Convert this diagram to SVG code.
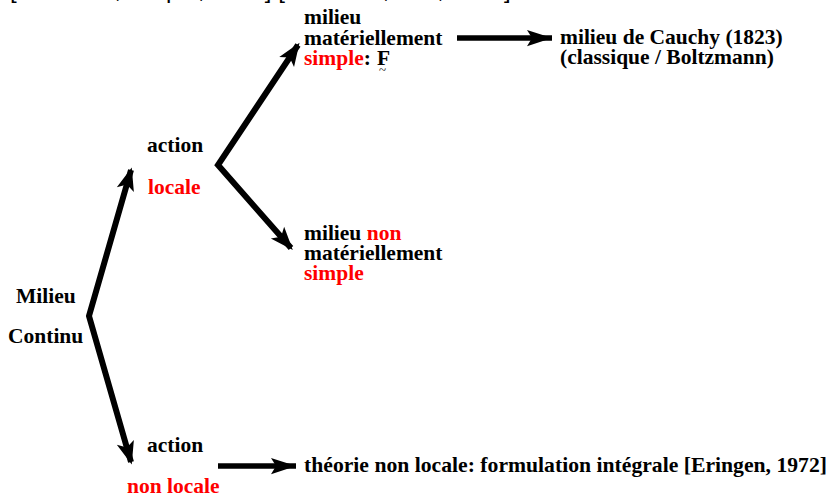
<svg xmlns="http://www.w3.org/2000/svg" width="828" height="495" viewBox="0 0 828 495">
<style>
.t{font-family:"Liberation Serif","Times New Roman",serif;font-weight:bold;font-size:21.5px;fill:#000}
.r{fill:#ff0000}
.ref{font-family:"Liberation Sans",Arial,sans-serif;font-size:24px;fill:#000}
.c{fill:none;stroke:#000;stroke-width:6;stroke-linejoin:miter;stroke-miterlimit:10;stroke-linecap:butt}
.h{fill:none;stroke:#000;stroke-width:5.5}
</style>
<defs>
<marker id="ad" markerUnits="userSpaceOnUse" markerWidth="30" markerHeight="30" refX="0" refY="0" viewBox="-20 -10 22 20" orient="auto-start-reverse" overflow="visible">
<path d="M2,0 L-15,-6.5 L-11,0 L-15,6.5 Z" fill="#000"/>
</marker>
<marker id="ah" markerUnits="userSpaceOnUse" markerWidth="30" markerHeight="30" refX="0" refY="0" viewBox="-22 -10 24 20" orient="auto" overflow="visible">
<path d="M0,0 L-20,-6.5 L-16,0 L-20,6.5 Z" fill="#000"/>
</marker>
</defs>
<text class="ref" x="10" y="-2">[Truesdell, Toupin, 1960] [Truesdell, Noll, 1965]</text>
<g id="connectors">
<polyline class="c" points="131,170 89,316 131,462" marker-start="url(#ad)" marker-end="url(#ad)"/>
<polyline class="c" points="298,45 218,165 291,248" marker-start="url(#ad)" marker-end="url(#ad)"/>
<line class="h" x1="457" y1="38" x2="552" y2="38" marker-end="url(#ah)"/>
<line class="h" x1="218" y1="466" x2="296" y2="466" marker-end="url(#ah)"/>
</g>
<g id="milieu-continu">
<text class="t" x="16" y="303">Milieu</text>
<text class="t" x="8" y="343">Continu</text>
</g>
<g id="action-locale">
<text class="t" x="147" y="152">action</text>
<text class="t r" x="148" y="194">locale</text>
</g>
<g id="action-non-locale">
<text class="t" x="147" y="452">action</text>
<text class="t r" x="127" y="493">non locale</text>
</g>
<g id="milieu-simple">
<text class="t" x="304" y="24">milieu</text>
<text class="t" x="304" y="45">matériellement</text>
<text class="t" x="304" y="65"><tspan class="r">simple</tspan>:</text>
<text class="t" x="377" y="65">F</text>
<text x="379" y="74" style="font-family:'Liberation Serif',serif;font-size:13px">~</text>
</g>
<g id="milieu-non-simple">
<text class="t" x="304" y="240">milieu <tspan class="r">non</tspan></text>
<text class="t" x="304" y="260">matériellement</text>
<text class="t r" x="304" y="280">simple</text>
</g>
<g id="cauchy">
<text class="t" x="560" y="44">milieu de Cauchy (1823)</text>
<text class="t" x="560" y="64">(classique / Boltzmann)</text>
</g>
<g id="eringen">
<text class="t" x="304" y="472" textLength="523" lengthAdjust="spacingAndGlyphs">théorie non locale: formulation intégrale [Eringen, 1972]</text>
</g>
</svg>
